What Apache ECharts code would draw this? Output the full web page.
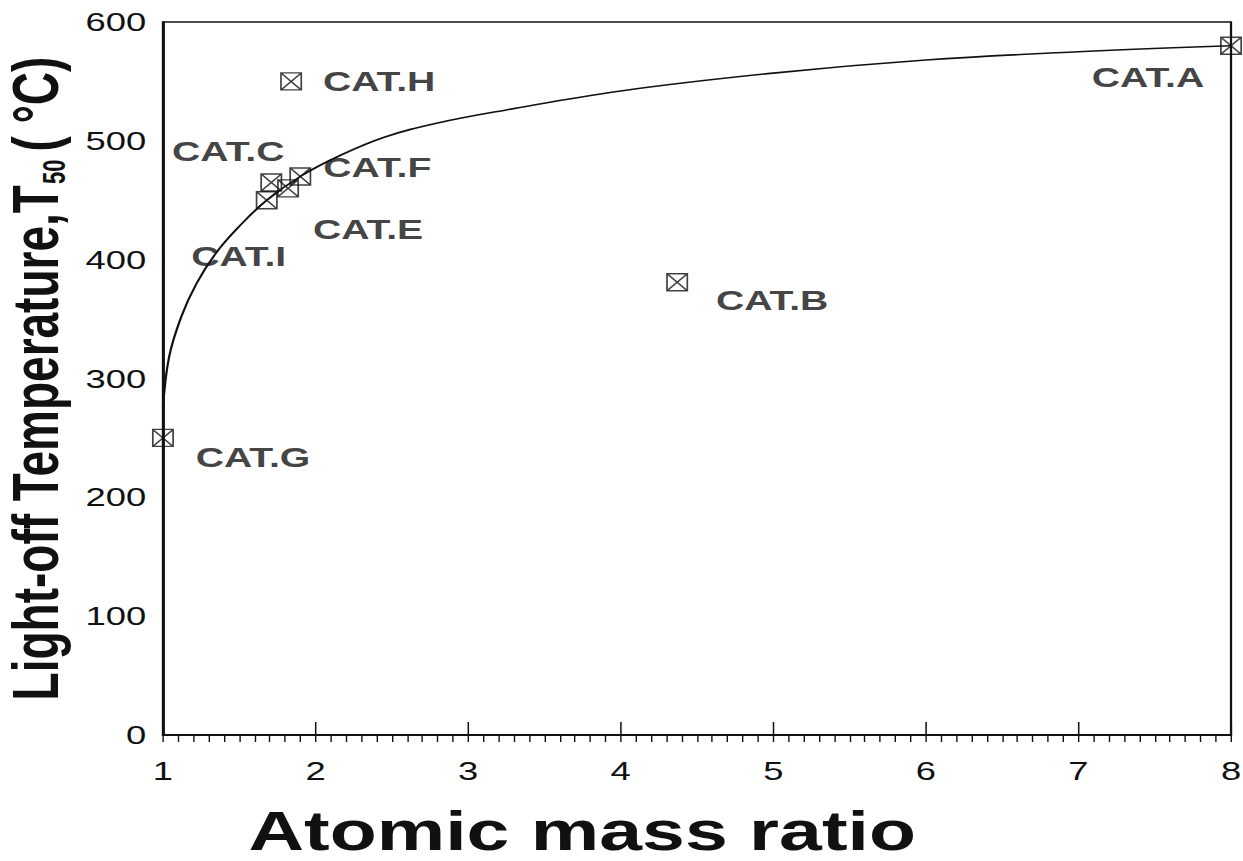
<!DOCTYPE html>
<html>
<head>
<meta charset="utf-8">
<script src="https://cdn.jsdelivr.net/npm/echarts@6/dist/echarts.min.js"></script>
<style>
  html, body { margin: 0; padding: 0; background: #ffffff; overflow: hidden; }
  #wrap { width: 1243px; height: 861px; overflow: hidden; }
  #chart { width: 888px; height: 861px; transform: scaleX(1.4); transform-origin: 0 0; }
</style>
</head>
<body>
<div id="wrap"><div id="chart"></div></div>
<script>
// ---- data ----
const catNames = ['CAT.A', 'CAT.B', 'CAT.C', 'CAT.E', 'CAT.F', 'CAT.G', 'CAT.H', 'CAT.I'];
const catRatio = [8.0, 4.37, 1.71, 1.82, 1.90, 1.0, 1.84, 1.68];
const catT50   = [580, 381, 465, 460, 470, 250, 550, 450];

const curveRatio = [1.0, 1.04, 1.12, 1.22, 1.35, 1.50, 1.68, 1.90, 2.15, 2.45, 2.80, 3.25, 4.0, 5.0, 6.0, 7.0, 8.0];
const curveT50   = [275, 318, 352, 380, 406, 428, 450, 470, 487, 503, 515, 526, 542, 557, 568, 575, 580];

const xTickValues = [1, 2, 3, 4, 5, 6, 7, 8];
const yTickValues = [0, 100, 200, 300, 400, 500, 600];

const xTitle = 'Atomic mass ratio';
const yTitleMain = 'Light-off Temperature,T';
const yTitleSub = '50';
const yTitleEnd = '( °C)';

// ---- layout (horizontal stretch of the picture) ----
const S = 1.4;
// label offsets in screen pixels [dx, dy], per category name
const labelOffsets = {
  'CAT.A': [-83, 31], 'CAT.B': [95, 18], 'CAT.C': [-43, -31], 'CAT.E': [80, 41],
  'CAT.F': [77, -9], 'CAT.G': [90, 19], 'CAT.H': [88, 0], 'CAT.I': [-28, 56]
};

const FONT = '"Liberation Sans", Arial, Helvetica, sans-serif';
const INK = '#111111';

const scatterData = catNames.map((n, i) => ({
  name: n,
  value: [catRatio[i], catT50[i]],
  label: { offset: [labelOffsets[n][0] / S, labelOffsets[n][1]] }
}));
const curveData = curveRatio.map((x, i) => [x, curveT50[i]]);

const chart = echarts.init(document.getElementById('chart'), null, { renderer: 'svg' });
chart.setOption({
  backgroundColor: '#ffffff',
  animation: false,
  grid: {
    left: 116.4, right: 8.7, top: 22, bottom: 126,
    containLabel: false, outerBoundsMode: 'none',
    show: true, borderColor: INK, borderWidth: 1.6, backgroundColor: 'transparent'
  },
  xAxis: [{
    type: 'value', min: 1, max: 8, interval: 1,
    axisLine: { show: true, onZero: false, lineStyle: { color: INK, width: 1.8 } },
    axisTick: { show: true, inside: true, length: 13, lineStyle: { color: INK, width: 1.1 }, customValues: xTickValues },
    axisLabel: { show: true, margin: 23, fontSize: 26, color: INK, fontFamily: FONT, customValues: xTickValues },
    splitLine: { show: false },
    name: xTitle, nameLocation: 'middle', nameGap: 68,
    nameTextStyle: { fontSize: 55, fontWeight: 'bold', color: INK, fontFamily: FONT, padding: [0, 164, 0, 0] }
  }, {
    type: 'value', min: 1, max: 8, interval: 0.1, position: 'bottom',
    axisLine: { show: false, onZero: false },
    axisTick: { show: true, inside: false, length: 7, lineStyle: { color: INK, width: 1 } },
    axisLabel: { show: false },
    splitLine: { show: false }
  }],
  yAxis: {
    type: 'value', min: 0, max: 600, interval: 100,
    axisLine: { show: true, onZero: false, lineStyle: { color: INK, width: 1.6 } },
    axisTick: { show: false },
    axisLabel: { show: true, margin: 12, fontSize: 26, color: INK, fontFamily: FONT, customValues: yTickValues },
    splitLine: { show: false },
    name: '{m|' + yTitleMain + '}{s|' + yTitleSub + '}{m|' + yTitleEnd + '}',
    nameLocation: 'middle', nameRotate: 90, nameGap: 58,
    nameTextStyle: {
      rich: {
        m: { fontSize: 46, fontWeight: 'bold', color: INK, fontFamily: FONT, lineHeight: 50 },
        s: { fontSize: 22, fontWeight: 'bold', color: INK, fontFamily: FONT, lineHeight: 50, verticalAlign: 'bottom', padding: [0, 8, 0, 1] }
      }
    }
  },
  series: [{
    type: 'line',
    xAxisIndex: 0,
    data: curveData,
    smooth: 0.4,
    showSymbol: false,
    lineStyle: { color: INK, width: 1.6 },
    z: 2,
    silent: true
  }, {
    type: 'scatter',
    xAxisIndex: 0,
    data: scatterData,
    symbol: 'path://M0 0H10V10H0Z M0 0L10 10 M10 0L0 10',
    symbolSize: [14.5, 17],
    itemStyle: { color: 'rgba(255,255,255,0)', borderColor: INK, borderWidth: 1.3 },
    label: {
      show: true, position: 'inside', formatter: '{b}',
      fontSize: 28, fontWeight: 'bold', color: INK, fontFamily: FONT
    },
    z: 3
  }]
});
</script>
</body>
</html>
